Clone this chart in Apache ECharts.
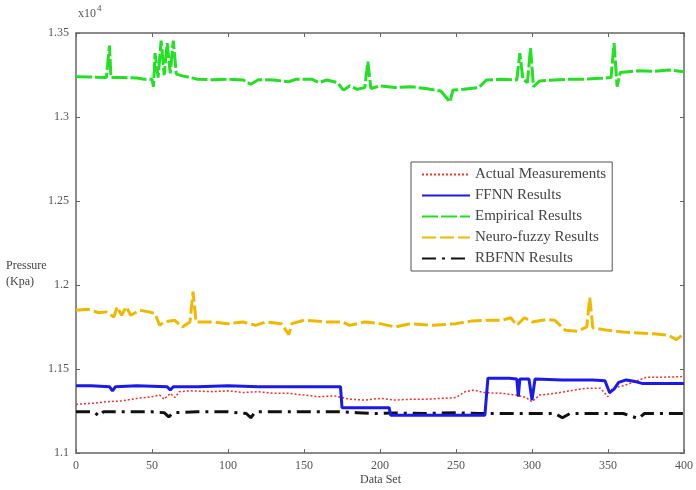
<!DOCTYPE html>
<html>
<head>
<meta charset="utf-8">
<script src="https://cdn.jsdelivr.net/npm/echarts@6/dist/echarts.min.js"></script>
<style>
  html, body { margin: 0; padding: 0; background: #fff; }
  #main { width: 696px; height: 490px; }
</style>
</head>
<body>
<div id="main"></div>
<script>
// x ticks / y ticks (pressure in units of 10^4 Kpa)
var xTicks = [0, 50, 100, 150, 200, 250, 300, 350, 400];
var yTicks = [1.1, 1.15, 1.2, 1.25, 1.3, 1.35];

// series as [data set, pressure]
var actual = [[0,1.129],[10,1.1295],[20,1.1305],[30,1.131],[40,1.1325],[50,1.1335],[55,1.1345],[58,1.132],[62,1.1355],[65,1.133],[68,1.1365],[75,1.137],[90,1.1365],[100,1.137],[110,1.136],[120,1.1365],[130,1.1355],[140,1.1355],[150,1.1345],[160,1.1335],[170,1.134],[180,1.132],[190,1.1315],[200,1.1325],[210,1.1315],[220,1.132],[230,1.132],[240,1.1325],[250,1.133],[256,1.1365],[262,1.1375],[268,1.136],[280,1.1355],[290,1.1345],[296,1.133],[300,1.1305],[305,1.1345],[315,1.1355],[325,1.137],[335,1.1385],[345,1.1385],[350,1.1335],[353,1.1385],[360,1.14],[368,1.1425],[375,1.145],[390,1.1452],[400,1.1455]];

var ffnn = [[0,1.140],[10,1.140],[22,1.1395],[24,1.137],[26,1.1395],[40,1.140],[60,1.1395],[62,1.1375],[64,1.1395],[80,1.1395],[100,1.140],[120,1.1395],[140,1.1395],[160,1.1395],[174,1.1395],[175,1.127],[190,1.127],[206,1.127],[207,1.1225],[230,1.1225],[250,1.1225],[269,1.1225],[271,1.1445],[285,1.1445],[290,1.144],[291,1.1335],[292,1.144],[298,1.144],[300,1.1315],[302,1.144],[320,1.1435],[340,1.1435],[348,1.143],[351,1.136],[354,1.138],[357,1.142],[362,1.1435],[368,1.1425],[373,1.1413],[400,1.1413]];

var empirical = [[0,1.324],[10,1.3238],[20,1.3235],[22,1.3425],[23,1.3235],[30,1.3235],[40,1.3232],[45,1.3225],[50,1.3225],[51,1.318],[52,1.338],[54,1.3235],[56,1.3455],[58,1.325],[60,1.344],[62,1.326],[64,1.3455],[66,1.3255],[70,1.3245],[80,1.3225],[90,1.3222],[100,1.3225],[110,1.322],[115,1.3195],[120,1.3222],[130,1.322],[140,1.321],[145,1.3225],[155,1.3225],[160,1.3205],[165,1.322],[172,1.3205],[176,1.316],[180,1.3185],[185,1.3165],[190,1.3175],[192,1.333],[194,1.317],[200,1.3185],[210,1.3175],[220,1.318],[230,1.317],[240,1.3155],[246,1.309],[248,1.316],[255,1.3165],[265,1.3175],[270,1.322],[280,1.3225],[290,1.322],[292,1.338],[294,1.3225],[297,1.3205],[299,1.341],[301,1.318],[305,1.3215],[315,1.322],[325,1.3225],[335,1.3225],[345,1.323],[352,1.3235],[354,1.344],[356,1.318],[358,1.3265],[370,1.3275],[380,1.3272],[390,1.328],[400,1.327]];

var neuroFuzzy = [[0,1.185],[8,1.1855],[15,1.1835],[20,1.184],[25,1.181],[27,1.187],[30,1.182],[33,1.187],[36,1.182],[42,1.185],[48,1.184],[52,1.183],[55,1.176],[58,1.178],[65,1.179],[70,1.175],[75,1.178],[77,1.196],[79,1.178],[90,1.178],[100,1.177],[110,1.178],[118,1.176],[125,1.178],[135,1.177],[140,1.1705],[142,1.177],[150,1.179],[165,1.178],[175,1.178],[180,1.176],[190,1.178],[200,1.177],[210,1.175],[220,1.177],[235,1.176],[250,1.177],[260,1.1785],[270,1.179],[280,1.179],[286,1.1805],[290,1.176],[295,1.1805],[300,1.178],[310,1.1795],[315,1.179],[322,1.173],[330,1.1725],[336,1.175],[338,1.1925],[340,1.1745],[350,1.173],[360,1.172],[370,1.1715],[380,1.171],[390,1.17],[395,1.1675],[400,1.171]];

var rbfnn = [[0,1.1245],[12,1.1245],[15,1.122],[18,1.1245],[30,1.1245],[50,1.1245],[58,1.124],[61,1.1215],[64,1.124],[80,1.1245],[100,1.1245],[112,1.1235],[115,1.121],[118,1.1245],[140,1.1245],[160,1.1245],[175,1.1245],[185,1.124],[195,1.1235],[210,1.1238],[230,1.1235],[250,1.124],[265,1.1235],[270,1.1235],[285,1.1235],[300,1.1235],[315,1.1235],[320,1.121],[325,1.1235],[345,1.1235],[360,1.1235],[370,1.1205],[374,1.1235],[400,1.1235]];

var font = 'Liberation Serif';
var axisColor = '#666';

var chart = echarts.init(document.getElementById('main'));

// 四周边框的刻度都朝内
function frameAxis(pos, ticks, step, withLabels){
	return {
		type : 'value',
		position : pos,
		min : ticks[0],
		max : ticks[ticks.length - 1],
		interval : step,
		axisLine : { show : true, onZero : false, lineStyle : { color : axisColor, width : 1.5 } },
		axisTick : { show : true, inside : true, length : 4, lineStyle : { color : axisColor } },
		axisLabel : { show : withLabels, color : '#555', fontFamily : font, fontSize : 12, margin : 7 },
		splitLine : { show : false }
	};
}

var option = {
	animation : false,
	backgroundColor : '#fff',
	grid : {
		left : 76,
		right : 8,
		top : 33,
		bottom : 37
	},
	xAxis : [
		frameAxis('bottom', xTicks, 50, true),
		frameAxis('top', xTicks, 50, false)
	],
	yAxis : [
		frameAxis('left', yTicks, 0.05, true),
		frameAxis('right', yTicks, 0.05, false)
	],
	legend : {
		orient : 'vertical',
		left : 411,
		top : 162,
		itemWidth : 48,
		itemHeight : 10,
		itemGap : 6,
		padding : [5, 6, 5, 10],
		borderColor : '#555',
		borderWidth : 1,
		backgroundColor : '#fff',
		itemStyle : { opacity : 0 },
		textStyle : { fontFamily : font, fontSize : 15, color : '#444' },
		data : ['Actual Measurements', 'FFNN Results', 'Empirical Results', 'Neuro-fuzzy Results', 'RBFNN Results']
	},
	graphic : [
		{ type : 'text', left : 78, top : 8, style : { text : 'x10', font : '12px ' + font, fill : '#555' } },
		{ type : 'text', left : 97, top : 4, style : { text : '4', font : '9px ' + font, fill : '#555' } },
		{ type : 'text', left : 6, top : 258, style : { text : 'Pressure\n(Kpa)', font : '12px ' + font, fill : '#444', lineHeight : 16 } },
		{ type : 'text', left : 360, top : 474, style : { text : 'Data Set', font : '12px ' + font, fill : '#444' } }
	],
	series : [
		{
			name : 'Empirical Results',
			type : 'line',
			data : empirical,
			symbol : 'none',
			color : '#22e022',
			lineStyle : { color : '#22e022', width : 3, type : [16, 3] }
		},
		{
			name : 'Neuro-fuzzy Results',
			type : 'line',
			data : neuroFuzzy,
			symbol : 'none',
			color : '#f2b800',
			lineStyle : { color : '#f2b800', width : 3, type : [14, 4] }
		},
		{
			name : 'RBFNN Results',
			type : 'line',
			data : rbfnn,
			symbol : 'none',
			color : '#111',
			lineStyle : { color : '#111', width : 3, type : [14, 6, 3, 6] }
		},
		{
			name : 'Actual Measurements',
			type : 'line',
			data : actual,
			symbol : 'none',
			color : '#ff2a2a',
			lineStyle : { color : '#ff2a2a', width : 1.5, type : [2, 2] }
		},
		{
			name : 'FFNN Results',
			type : 'line',
			data : ffnn,
			symbol : 'none',
			color : '#1a1aee',
			lineStyle : { color : '#1a1aee', width : 3 }
		}
	]
};

chart.setOption(option);
</script>
</body>
</html>
